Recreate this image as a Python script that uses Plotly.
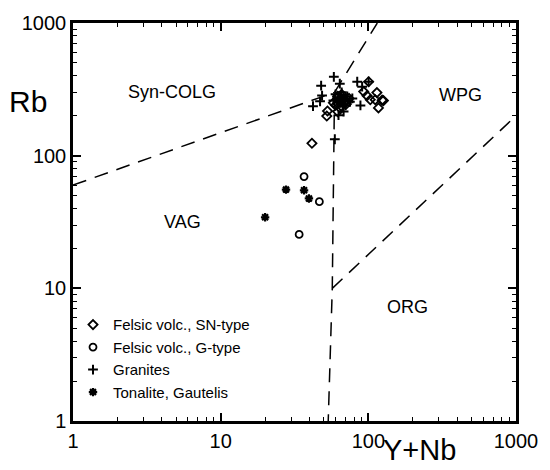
import plotly.graph_objects as go

# ---------------- data ----------------
sn_x = [41.5, 52.9, 52.3, 93.0, 98.0, 103.1, 114.3, 111.3, 117.1, 126.5, 124.0, 100.5,
        62, 68, 64, 70, 60, 66, 74, 62, 58, 65, 71, 67, 63, 69]
sn_y = [124, 217, 199, 304, 283, 264, 299, 264, 229, 260, 262, 361,
        280, 270, 230, 260, 240, 290, 270, 215, 250, 255, 245, 265, 262, 250]

g_x = [36.7, 46.6, 34.0]
g_y = [69.6, 45.0, 25.5]

gr_x = [58.4, 64.1, 47.9, 48.6, 47.1, 42.2, 77.9, 62.8, 59.3, 84.1, 90.8, 100.5, 88.4,
        60, 66, 72, 64, 70, 58, 68, 75, 63, 67, 65, 69]
gr_y = [393, 349, 337, 284, 257, 236, 270, 202, 133, 361, 331, 361, 239,
        290, 300, 280, 250, 240, 260, 215, 255, 270, 235, 275, 258]

ton_x = [27.7, 36.7, 39.6, 20.0]
ton_y = [55.5, 54.8, 47.6, 34.3]

# field boundaries
b1_x, b1_y = [1, 59], [60, 300]
b2_x, b2_y = [59, 115], [300, 1000]
b3_x, b3_y = [59, 57, 53.5], [300, 10, 1]
b4_x, b4_y = [57, 1000], [10, 200]

fields = ["Syn-COLG", "WPG", "VAG", "ORG"]
field_lx = [0.673, 2.627, 0.74, 2.267]
field_ly = [2.483, 2.461, 1.50, 0.857]

tick_vals = [1, 10, 100, 1000]
tick_text = ["1", "10", "100", "1000"]
minor_vals = [m * d for d in (1, 10, 100) for m in range(2, 10)]

FONT = "Liberation Sans, Arial, Helvetica, sans-serif"

fig = go.Figure()

dash = "14px,9px"
for bx, by in [(b1_x, b1_y), (b2_x, b2_y), (b3_x, b3_y), (b4_x, b4_y)]:
    fig.add_trace(go.Scatter(x=bx, y=by, mode="lines", showlegend=False,
                             line=dict(color="black", width=1.5, dash=dash),
                             hoverinfo="skip"))

fig.add_trace(go.Scatter(x=sn_x, y=sn_y, mode="markers", name="Felsic volc., SN-type",
                         marker=dict(symbol="diamond-open", size=7, color="black",
                                     line=dict(width=1.8, color="black"))))
fig.add_trace(go.Scatter(x=g_x, y=g_y, mode="markers", name="Felsic volc., G-type",
                         marker=dict(symbol="circle-open", size=7, color="black",
                                     line=dict(width=1.8, color="black"))))
fig.add_trace(go.Scatter(x=gr_x, y=gr_y, mode="markers", name="Granites",
                         marker=dict(symbol="cross-thin-open", size=7, color="black",
                                     line=dict(width=2, color="black"))))
fig.add_trace(go.Scatter(x=ton_x, y=ton_y, mode="markers", name="Tonalite, Gautelis",
                         marker=dict(symbol="asterisk-open", size=7, color="black",
                                     line=dict(width=2.2, color="black"))))

for t, lx, ly in zip(fields, field_lx, field_ly):
    fig.add_annotation(x=lx, y=ly, xref="x", yref="y", text=t, showarrow=False,
                       font=dict(family=FONT, size=18, color="black"))

fig.add_annotation(x=(27 - 73) / 452, y=(421 - 95) / 406, xref="paper", yref="paper",
                   xanchor="center", yanchor="middle", text="Rb", showarrow=False,
                   font=dict(family=FONT, size=30, color="black"))
fig.add_annotation(x=(427 - 73) / 452, y=(421 - 451) / 406, xref="paper", yref="paper",
                   xanchor="center", yanchor="middle", text="Y+Nb", showarrow=False,
                   font=dict(family=FONT, size=29, color="black"))

axis_common = dict(type="log", range=[0, 3], showgrid=False, zeroline=False,
                   showline=True, linecolor="black", linewidth=2.5, mirror="ticks",
                   ticks="inside", ticklen=8, tickwidth=1.5, tickcolor="black",
                   tickvals=tick_vals, ticktext=tick_text,
                   tickfont=dict(family=FONT, size=20, color="black"),
                   minor=dict(tickvals=minor_vals, ticks="inside", ticklen=4,
                              tickwidth=1.2, tickcolor="black", showgrid=False))

fig.update_layout(
    width=550, height=470,
    margin=dict(l=73, r=25, t=15, b=49),
    plot_bgcolor="white", paper_bgcolor="white",
    xaxis=axis_common, yaxis=axis_common,
    showlegend=True,
    legend=dict(x=0.0, y=0.283, xanchor="left", yanchor="top",
                bgcolor="rgba(0,0,0,0)", borderwidth=0,
                font=dict(family=FONT, size=15, color="black"),
                itemwidth=30, tracegroupgap=0),
)

fig.write_html("out.html")
